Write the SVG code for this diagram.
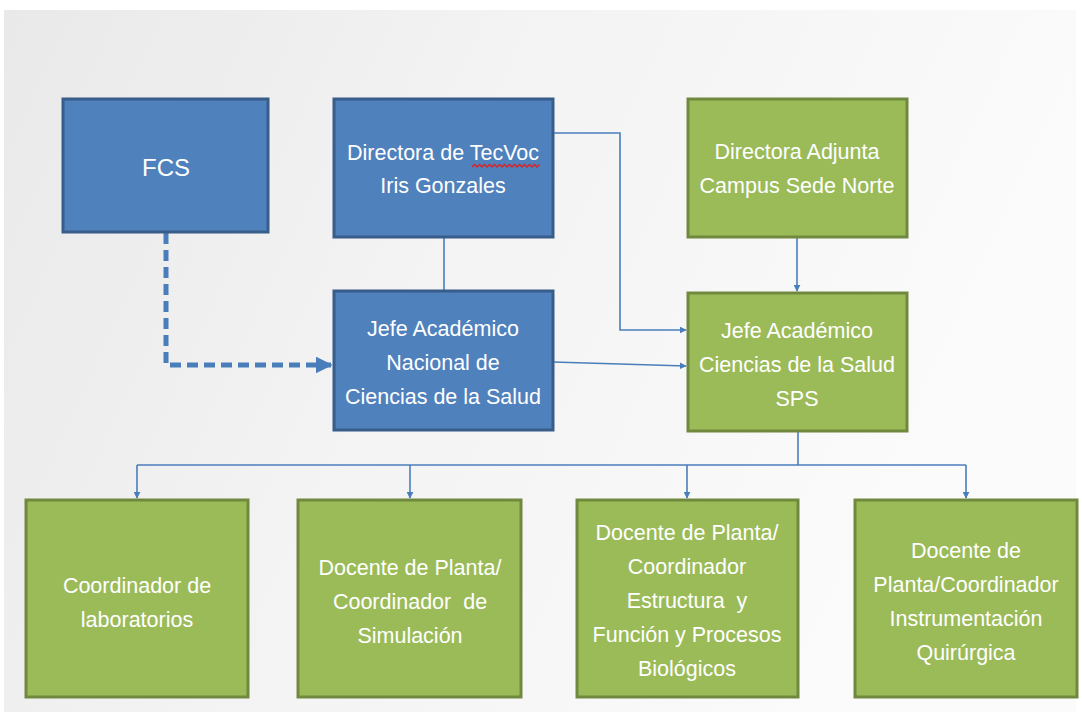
<svg xmlns="http://www.w3.org/2000/svg" width="1082" height="719" viewBox="0 0 1082 719">
<defs>
<linearGradient id="bg" x1="0" y1="0" x2="1" y2="0.3">
<stop offset="0" stop-color="#e9e9e9"/>
<stop offset="0.45" stop-color="#f3f3f3"/>
<stop offset="1" stop-color="#fbfbfb"/>
</linearGradient>
<marker id="arr" viewBox="0 0 10 10" refX="9" refY="5" markerWidth="7" markerHeight="7" markerUnits="userSpaceOnUse" orient="auto">
<path d="M0,0 L10,5 L0,10 z" fill="#4A7EBB"/>
</marker>
<marker id="arrBig" viewBox="0 0 10 10" refX="9" refY="5" markerWidth="3.4" markerHeight="3.4" orient="auto">
<path d="M0,0 L10,5 L0,10 z" fill="#4A7EBB"/>
</marker>
</defs>
<style>
.blue{fill:#4F81BD;stroke:#385D8A;stroke-width:3}
.green{fill:#9BBB59;stroke:#71893F;stroke-width:3}
.t{fill:#ffffff;font-family:"Liberation Sans",Arial,sans-serif;font-size:21.5px;text-anchor:middle}
.c{fill:none;stroke:#4A7EBB;stroke-width:1.6}
</style>
<rect x="0" y="0" width="1082" height="719" fill="#ffffff"/>
<rect x="4" y="10" width="1072" height="702" fill="url(#bg)"/>

<g id="connectors">
<path class="c" d="M444,237 L444,291"/>
<path class="c" d="M553,133 L620,133 L620,330 L686,330" marker-end="url(#arr)"/>
<path class="c" d="M553,362 L686,366" marker-end="url(#arr)"/>
<path class="c" d="M797,237 L797,291" marker-end="url(#arr)"/>
<path class="c" d="M798,431 L798,465"/>
<path class="c" d="M137,465 L966,465"/>
<path class="c" d="M137,465 L137,498" marker-end="url(#arr)"/>
<path class="c" d="M410,465 L410,498" marker-end="url(#arr)"/>
<path class="c" d="M687,465 L687,498" marker-end="url(#arr)"/>
<path class="c" d="M966,465 L966,498" marker-end="url(#arr)"/>
<path d="M166,233 L166,365 L331,365" fill="none" stroke="#4A7EBB" stroke-width="5" stroke-dasharray="11,6" marker-end="url(#arrBig)"/>
</g>

<g id="fcs">
<rect class="blue" x="63" y="99" width="205" height="133"/>
<text class="t" x="166" y="176" style="font-size:24px">FCS</text>
</g>

<g id="directora-tecvoc">
<rect class="blue" x="334" y="99" width="219" height="138"/>
<text class="t" x="443" y="160">Directora de TecVoc</text>
<text class="t" x="443" y="193">Iris Gonzales</text>
<path d="M472,167 l2.5,-2.5 l2.5,2.5 l2.5,-2.5 l2.5,2.5 l2.5,-2.5 l2.5,2.5 l2.5,-2.5 l2.5,2.5 l2.5,-2.5 l2.5,2.5 l2.5,-2.5 l2.5,2.5 l2.5,-2.5 l2.5,2.5 l2.5,-2.5 l2.5,2.5 l2.5,-2.5 l2.5,2.5 l2.5,-2.5 l2.5,2.5 l2.5,-2.5 l2.5,2.5 l2.5,-2.5 l2.5,2.5 l2.5,-2.5 l2.5,2.5 l2.5,-2.5" fill="none" stroke="#e02020" stroke-width="1.3"/>
</g>

<g id="jefe-nacional">
<rect class="blue" x="334" y="291" width="219" height="139"/>
<text class="t" x="443" y="336">Jefe Académico</text>
<text class="t" x="443" y="370">Nacional de</text>
<text class="t" x="443" y="404">Ciencias de la Salud</text>
</g>

<g id="directora-adjunta">
<rect class="green" x="688" y="99" width="219" height="138"/>
<text class="t" x="797" y="159">Directora Adjunta</text>
<text class="t" x="797" y="193">Campus Sede Norte</text>
</g>

<g id="jefe-sps">
<rect class="green" x="688" y="293" width="219" height="138"/>
<text class="t" x="797" y="338">Jefe Académico</text>
<text class="t" x="797" y="372">Ciencias de la Salud</text>
<text class="t" x="797" y="406">SPS</text>
</g>

<g id="coord-lab">
<rect class="green" x="26" y="500" width="222" height="197"/>
<text class="t" x="137" y="593">Coordinador de</text>
<text class="t" x="137" y="627">laboratorios</text>
</g>

<g id="coord-sim">
<rect class="green" x="298" y="500" width="223" height="197"/>
<text class="t" x="410" y="575">Docente de Planta/</text>
<text class="t" x="410" y="609" style="white-space:pre">Coordinador  de</text>
<text class="t" x="410" y="643">Simulación</text>
</g>

<g id="coord-estructura">
<rect class="green" x="577" y="500" width="221" height="197"/>
<text class="t" x="687" y="540">Docente de Planta/</text>
<text class="t" x="687" y="574">Coordinador</text>
<text class="t" x="687" y="608" style="white-space:pre">Estructura  y</text>
<text class="t" x="687" y="642">Función y Procesos</text>
<text class="t" x="687" y="676">Biológicos</text>
</g>

<g id="coord-instrumentacion">
<rect class="green" x="855" y="500" width="222" height="197"/>
<text class="t" x="966" y="558">Docente de</text>
<text class="t" x="966" y="592">Planta/Coordinador</text>
<text class="t" x="966" y="626">Instrumentación</text>
<text class="t" x="966" y="660">Quirúrgica</text>
</g>
</svg>
